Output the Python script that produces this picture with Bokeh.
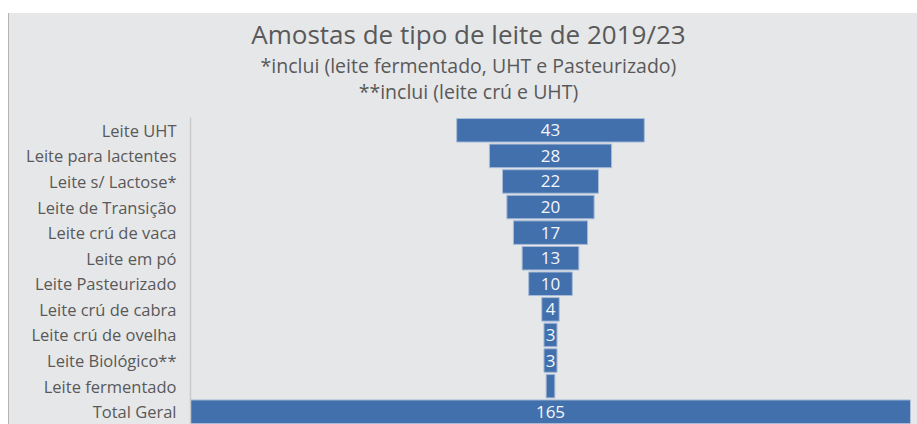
from bokeh.plotting import figure
from bokeh.layouts import column
from bokeh.models import ColumnDataSource, FactorRange, Range1d
from bokeh.core.properties import value
from bokeh.embed import file_html
from bokeh.resources import INLINE

categories = ["Leite UHT", "Leite para lactentes", "Leite s/ Lactose*", "Leite de Transição",
              "Leite crú de vaca", "Leite em pó", "Leite Pasteurizado", "Leite crú de cabra",
              "Leite crú de ovelha", "Leite Biológico**", "Leite fermentado", "Total Geral"]
values = [43, 28, 22, 20, 17, 13, 10, 4, 3, 3, 2, 165]
shown_labels = ["43", "28", "22", "20", "17", "13", "10", "4", "3", "3", "", "165"]

title_lines = ["Amostas de tipo de leite de 2019/23",
               "*inclui (leite fermentado, UHT e Pasteurizado)",
               "**inclui (leite crú e UHT)"]

BG = "#e6e7e9"
BAR = "#4170ad"
FONT = "Open Sans"
W = 908
TOP_H = 104
MAIN_H = 307
LEFT = 181
RIGHT = 7

total = max(values)
xr = Range1d(-total / 2, total / 2)

# ---- title strip (shares the funnel's horizontal frame) ----
t = figure(width=W, height=TOP_H, output_backend="svg", toolbar_location=None,
           x_range=xr, y_range=Range1d(0, TOP_H),
           min_border_left=LEFT, min_border_right=RIGHT, min_border_top=0, min_border_bottom=0)
t.background_fill_color = BG
t.border_fill_color = BG
t.outline_line_color = None
t.axis.visible = False
t.grid.visible = False
title_x = -18.8
tsrc = ColumnDataSource(data=dict(
    x=[title_x] * 3,
    y=[TOP_H - 20, TOP_H - 52, TOP_H - 78],
    txt=title_lines,
    fs=["26px", "19.5px", "19.5px"],
))
t.text(x="x", y="y", text="txt", text_font_size="fs", source=tsrc, text_align="center",
       text_baseline="middle", text_font=value(FONT), text_color="#595959")

# ---- funnel ----
src = ColumnDataSource(data=dict(
    cat=categories,
    val=values,
    left=[-v / 2 for v in values],
    right=[v / 2 for v in values],
    lab=shown_labels,
))

p = figure(width=W, height=MAIN_H, output_backend="svg", toolbar_location=None,
           y_range=FactorRange(factors=list(reversed(categories))),
           x_range=xr,
           min_border_left=LEFT, min_border_right=RIGHT, min_border_top=0, min_border_bottom=0)
p.background_fill_color = BG
p.border_fill_color = BG
p.outline_line_color = None
p.xgrid.visible = False
p.ygrid.visible = False
p.xaxis.visible = False

ax = p.yaxis[0]
ax.axis_line_color = "#c9c9c9"
ax.axis_line_width = 1.5
ax.major_tick_line_color = None
ax.minor_tick_line_color = None
ax.major_tick_out = 0
ax.major_tick_in = 0
ax.major_label_standoff = 14
ax.major_label_text_font = FONT
ax.major_label_text_font_size = "16.5px"
ax.major_label_text_color = "#595959"

p.hbar(y="cat", left="left", right="right", height=0.92, source=src,
       fill_color=BAR, line_color="#a8bcd8", line_width=1)

p.text(x=0, y="cat", text="lab", source=src, text_align="center", text_baseline="middle",
       text_font=value(FONT), text_font_size="17px", text_color="#f4f6fa")

layout = column(t, p, spacing=0)
layout.styles = {"margin-top": "13px", "margin-left": "8px", "border-left": "1px solid #b4b4b4",
                 "background-color": BG}

open("out.html", "w").write(file_html(layout, INLINE))
